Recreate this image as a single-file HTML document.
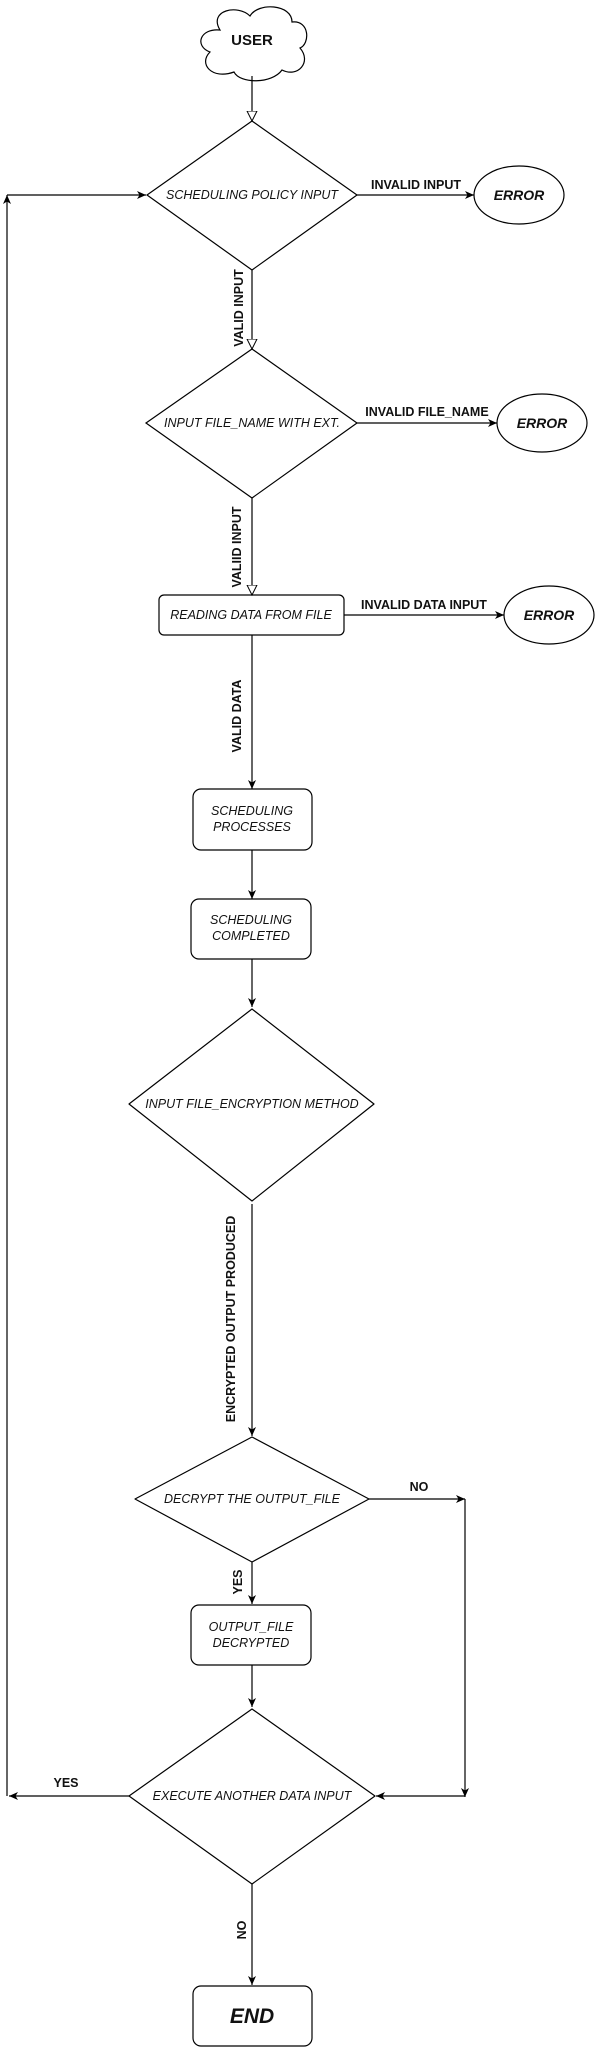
<!DOCTYPE html>
<html><head><meta charset="utf-8"><style>
html,body{margin:0;padding:0;background:#fff;}
svg{display:block;}
text{font-family:"Liberation Sans",Arial,sans-serif;fill:#111;}
.n{font-style:italic;font-size:12.5px;}
.l{font-weight:bold;font-size:12.5px;}
</style></head><body>
<svg width="595" height="2047" viewBox="0 0 595 2047" xmlns="http://www.w3.org/2000/svg">
<defs>
<marker id="a" markerWidth="10" markerHeight="10" refX="9" refY="5" orient="auto" markerUnits="userSpaceOnUse"><path d="M0,1 L9,5 L0,9 L2.5,5 z" fill="#000"/></marker>
<marker id="h" markerWidth="12" markerHeight="12" refX="10" refY="6" orient="auto" markerUnits="userSpaceOnUse"><path d="M0,1 L10,6 L0,11 z" fill="#fff" stroke="#000" stroke-width="1"/></marker>
</defs>
<g fill="none" stroke="#000" stroke-width="1.2">
<path d="M220,30 C208,10 238,4 250,16 C258,2 292,4 292,22 C310,20 310,44 300,48 C312,62 298,78 282,70 C272,84 240,84 234,72 C212,80 198,64 210,52 C194,46 200,28 220,30 z" fill="#fff"/>
<polygon points="252,121 357,195 252,270 147,195" fill="#fff"/>
<polygon points="252,349 357,423 252,498 146,423" fill="#fff"/>
<polygon points="252,1009 374,1104 252,1201 129,1104" fill="#fff" stroke-linejoin="round"/>
<polygon points="252,1437 369,1499 252,1562 135,1499" fill="#fff" stroke-linejoin="round"/>
<polygon points="252,1709 375,1796 252,1884 129,1796" fill="#fff" stroke-linejoin="round"/>
<rect x="159" y="595" width="185" height="40" rx="5"/>
<rect x="193" y="789" width="119" height="61" rx="8"/>
<rect x="191" y="899" width="120" height="60" rx="8"/>
<rect x="191" y="1605" width="120" height="60" rx="8"/>
<rect x="193" y="1986" width="119" height="60" rx="8"/>
<ellipse cx="519" cy="195" rx="45" ry="29"/>
<ellipse cx="542" cy="423" rx="45" ry="29"/>
<ellipse cx="549" cy="615" rx="45" ry="29"/>
<line x1="252" y1="76" x2="252" y2="121" marker-end="url(#h)"/>
<line x1="252" y1="270" x2="252" y2="349" marker-end="url(#h)"/>
<line x1="252" y1="498" x2="252" y2="595" marker-end="url(#h)"/>
<line x1="357" y1="195" x2="474" y2="195" marker-end="url(#a)"/>
<line x1="357" y1="423" x2="497" y2="423" marker-end="url(#a)"/>
<line x1="344" y1="615" x2="504" y2="615" marker-end="url(#a)"/>
<line x1="252" y1="635" x2="252" y2="789" marker-end="url(#a)"/>
<line x1="252" y1="850" x2="252" y2="899" marker-end="url(#a)"/>
<line x1="252" y1="959" x2="252" y2="1007" marker-end="url(#a)"/>
<line x1="252" y1="1204" x2="252" y2="1436" marker-end="url(#a)"/>
<line x1="252" y1="1562" x2="252" y2="1604" marker-end="url(#a)"/>
<line x1="252" y1="1665" x2="252" y2="1707" marker-end="url(#a)"/>
<line x1="252" y1="1884" x2="252" y2="1985" marker-end="url(#a)"/>
<line x1="369" y1="1499" x2="465" y2="1499" marker-end="url(#a)"/>
<line x1="465" y1="1499" x2="465" y2="1797" marker-end="url(#a)"/>
<line x1="465" y1="1796" x2="376" y2="1796" marker-end="url(#a)"/>
<line x1="129" y1="1796" x2="9" y2="1796" marker-end="url(#a)"/>
<line x1="7" y1="1796" x2="7" y2="195" marker-end="url(#a)"/>
<line x1="7" y1="195" x2="146" y2="195" marker-end="url(#a)"/>
</g>
<text x="252" y="45" text-anchor="middle" style="font-weight:bold;font-size:15px">USER</text>
<text x="252" y="199" text-anchor="middle" class="n">SCHEDULING POLICY INPUT</text>
<text x="252" y="427" text-anchor="middle" class="n">INPUT FILE_NAME WITH EXT.</text>
<text x="251" y="619" text-anchor="middle" class="n">READING DATA FROM FILE</text>
<text x="252" y="815" text-anchor="middle" class="n">SCHEDULING</text>
<text x="252" y="831" text-anchor="middle" class="n">PROCESSES</text>
<text x="251" y="924" text-anchor="middle" class="n">SCHEDULING</text>
<text x="251" y="940" text-anchor="middle" class="n">COMPLETED</text>
<text x="252" y="1108" text-anchor="middle" class="n">INPUT FILE_ENCRYPTION METHOD</text>
<text x="252" y="1503" text-anchor="middle" class="n">DECRYPT THE OUTPUT_FILE</text>
<text x="251" y="1631" text-anchor="middle" class="n">OUTPUT_FILE</text>
<text x="251" y="1647" text-anchor="middle" class="n">DECRYPTED</text>
<text x="252" y="1800" text-anchor="middle" class="n">EXECUTE ANOTHER DATA INPUT</text>
<text x="252" y="2023" text-anchor="middle" style="font-weight:bold;font-style:italic;font-size:21px">END</text>
<text x="519" y="200" text-anchor="middle" style="font-weight:bold;font-style:italic;font-size:14px">ERROR</text>
<text x="542" y="428" text-anchor="middle" style="font-weight:bold;font-style:italic;font-size:14px">ERROR</text>
<text x="549" y="620" text-anchor="middle" style="font-weight:bold;font-style:italic;font-size:14px">ERROR</text>
<text x="416" y="189" text-anchor="middle" class="l">INVALID INPUT</text>
<text x="427" y="416" text-anchor="middle" class="l">INVALID FILE_NAME</text>
<text x="424" y="609" text-anchor="middle" class="l">INVALID DATA INPUT</text>
<text x="419" y="1491" text-anchor="middle" class="l">NO</text>
<text x="66" y="1787" text-anchor="middle" class="l">YES</text>
<text transform="translate(243,308) rotate(-90)" text-anchor="middle" class="l">VALID INPUT</text>
<text transform="translate(241,547) rotate(-90)" text-anchor="middle" class="l">VALIID INPUT</text>
<text transform="translate(241,716) rotate(-90)" text-anchor="middle" class="l">VALID DATA</text>
<text transform="translate(235,1319) rotate(-90)" text-anchor="middle" class="l">ENCRYPTED OUTPUT PRODUCED</text>
<text transform="translate(242,1582) rotate(-90)" text-anchor="middle" class="l">YES</text>
<text transform="translate(246,1930) rotate(-90)" text-anchor="middle" class="l">NO</text>
</svg>
</body></html>
